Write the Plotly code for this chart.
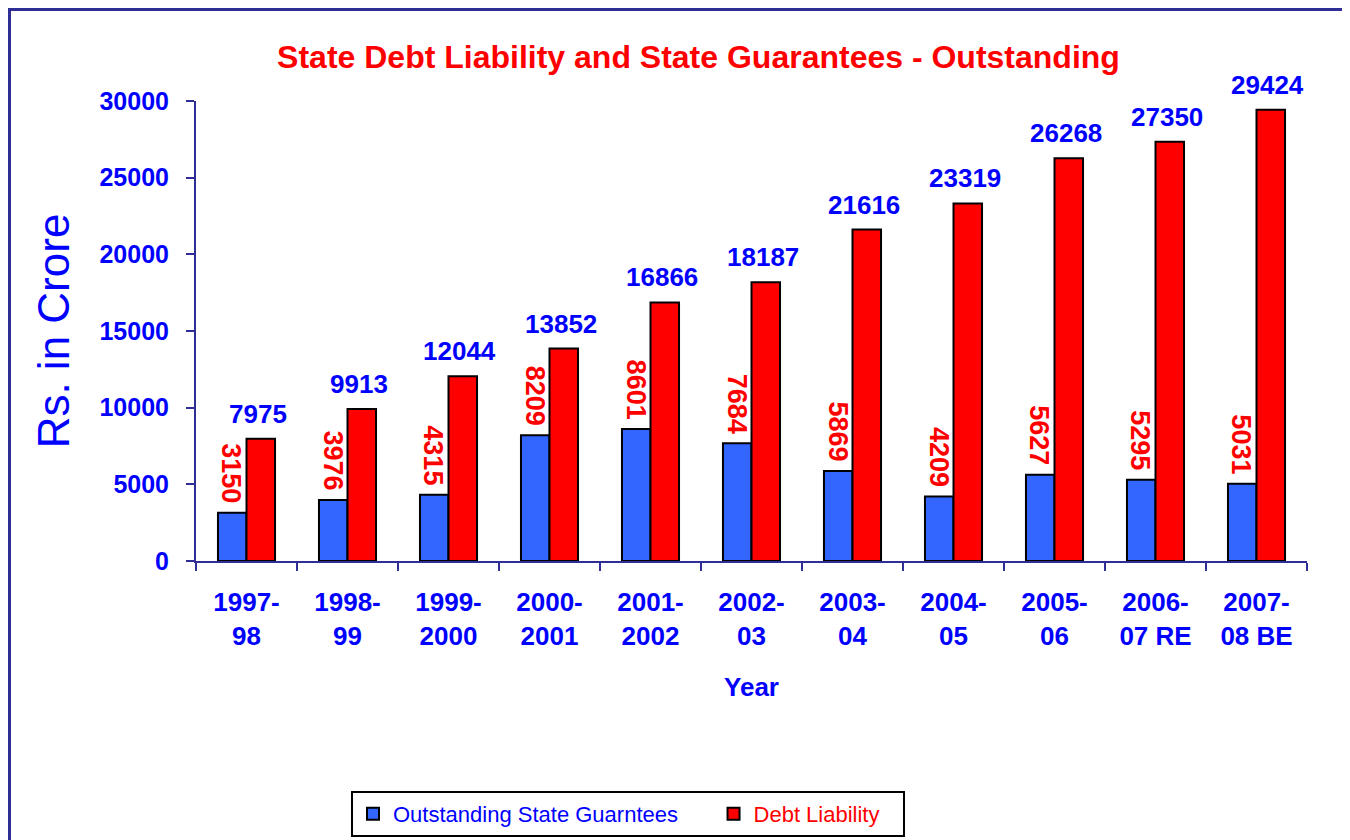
import plotly.graph_objects as go

categories = ["1997-<br>98", "1998-<br>99", "1999-<br>2000", "2000-<br>2001", "2001-<br>2002",
              "2002-<br>03", "2003-<br>04", "2004-<br>05", "2005-<br>06", "2006-<br>07 RE", "2007-<br>08 BE"]
guarantees = [3150, 3976, 4315, 8209, 8601, 7684, 5869, 4209, 5627, 5295, 5031]
debt = [7975, 9913, 12044, 13852, 16866, 18187, 21616, 23319, 26268, 27350, 29424]
y_ticks = [0, 5000, 10000, 15000, 20000, 25000, 30000]

NAVY = "#2E2E96"
BLUE_TXT = "#0000FF"
RED_TXT = "#FF0000"
FONT = "Liberation Sans, Arial, sans-serif"

# the page body adds an 8px offset; figure is sized to fit the 1350x840 window
OFF = 8
W, H = 1350 - OFF, 840 - OFF
PL, PR, PT, PB = 196, 1307, 101, 561   # plot area in window pixels
PW, PH = PR - PL, PB - PT

fig = go.Figure()
fig.add_trace(go.Bar(
    x=categories, y=guarantees,
    name='<span style="color:#0000FF">Outstanding State Guarntees</span>' + "&nbsp;" * 5,
    marker=dict(color="#3366FF", line=dict(color="black", width=2)),
))
fig.add_trace(go.Bar(
    x=categories, y=debt,
    name='<span style="color:#FF0000">Debt Liability</span>' + "&nbsp;" * 3,
    marker=dict(color="#FF0000", line=dict(color="black", width=2)),
))

for c, v in zip(categories, debt):
    fig.add_annotation(x=c, y=v, text=str(v), showarrow=False, xanchor="center", yanchor="bottom",
                       xshift=11, yshift=8,
                       font=dict(family=FONT, size=26, color=BLUE_TXT, weight="bold"))
for c, v in zip(categories, guarantees):
    fig.add_annotation(x=c, y=v, text=str(v), showarrow=False, textangle=90,
                       xanchor="center", yanchor="bottom", xshift=-15, yshift=8,
                       font=dict(family=FONT, size=27, color=RED_TXT, weight="bold"))

# outer frame
fig.add_shape(type="rect", xref="paper", yref="paper",
              x0=(9.5 - PL) / PW, x1=(1345 - PL) / PW,
              y0=(PB - 860) / PH, y1=(PB - 9.5) / PH,
              line=dict(color=NAVY, width=3), layer="below")

fig.update_layout(
    width=W, height=H,
    margin=dict(l=PL - OFF, r=W - (PR - OFF), t=PT - OFF, b=H - (PB - OFF)),
    paper_bgcolor="white", plot_bgcolor="white",
    barmode="group", bargap=0.435, bargroupgap=0,
    title=dict(text="State Debt Liability and State Guarantees - Outstanding",
               x=(698.5 - OFF) / W, xref="container", xanchor="center",
               y=1 - (57 - OFF) / H, yref="container", yanchor="middle",
               font=dict(family=FONT, size=32, color=RED_TXT, weight="bold")),
    showlegend=True,
    legend=dict(orientation="h", xref="container", yref="container",
                x=(351 - OFF) / W, xanchor="left",
                y=1 - (791 - OFF) / H, yanchor="top",
                bordercolor="black", borderwidth=2, bgcolor="white",
                font=dict(family=FONT, size=22, color="black"),
                traceorder="normal"),
    xaxis=dict(showline=True, linecolor=NAVY, linewidth=2, ticks="outside", tickson="boundaries",
               ticklen=8, tickcolor=NAVY, tickwidth=2, showgrid=False,
               tickfont=dict(family=FONT, size=26, color=BLUE_TXT, weight="bold"),
               ticklabelstandoff=17,
               title=dict(text="Year", standoff=28,
                          font=dict(family=FONT, size=26, color=BLUE_TXT, weight="bold"))),
    yaxis=dict(range=[0, 30000], tickvals=y_ticks, tickformat="d", showline=True, linecolor=NAVY,
               linewidth=2, ticks="outside", ticklen=8, tickcolor=NAVY, tickwidth=2,
               showgrid=False, zeroline=False,
               tickfont=dict(family=FONT, size=25, color=BLUE_TXT, weight="bold"),
               ticklabelstandoff=12,
               title=dict(text="Rs. in Crore", standoff=16,
                          font=dict(family=FONT, size=44, color=BLUE_TXT))),
)

fig.write_html("out.html")
